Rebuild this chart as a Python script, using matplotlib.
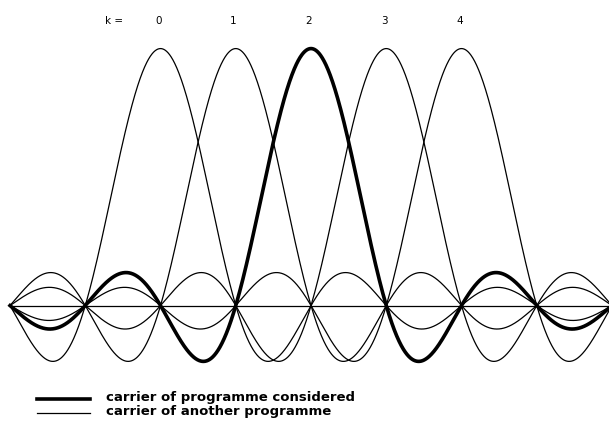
import numpy as np
import matplotlib
matplotlib.use("Agg")
import matplotlib.pyplot as plt

###########################################################
### ---------------------- INPUT --------------------------
###########################################################

carriers = [0, 1, 2, 3, 4]        # carrier index k
considered = 2                    # carrier of the programme considered
k_labels = ["0", "1", "2", "3", "4"]
x_span = (-2.0, 6.0)              # frequency range, in carrier spacings

legend_text = ["carrier of programme considered",
               "carrier of another programme"]

###########################################################
### ---------------------- PLOT ---------------------------
###########################################################

fig = plt.figure(figsize=(6.09, 4.32), dpi=100)
ax = fig.add_axes([0, 0, 1, 1])
ax.set_xlim(-2.133, 5.96)
ax.set_ylim(-0.492, 1.189)
ax.axis("off")

f = np.linspace(x_span[0], x_span[1], 2000)

# baseline
ax.plot(x_span, [0, 0], color="black", lw=0.9)

for k in carriers:
    spectrum = np.sinc(f - k)
    if k == considered:
        ax.plot(f, spectrum, color="black", lw=2.6, zorder=3)
    else:
        ax.plot(f, spectrum, color="black", lw=0.9)

# carrier numbers along the top
ax.text(-0.62, 1.107, "k =", ha="center", va="center", fontsize=7.5)
for k, lab in zip(carriers, k_labels):
    ax.text(k - 0.03, 1.107, lab, ha="center", va="center", fontsize=7.5)

# key
fig.lines.append(plt.Line2D([37/609, 90/609], [1 - 399/432] * 2,
                            transform=fig.transFigure, color="black", lw=2.6))
fig.lines.append(plt.Line2D([37/609, 90/609], [1 - 413/432] * 2,
                            transform=fig.transFigure, color="black", lw=0.9))
fig.text(106/609, 1 - 398/432, legend_text[0], ha="left", va="center",
         fontsize=9.5, fontweight="bold")
fig.text(106/609, 1 - 412/432, legend_text[1], ha="left", va="center",
         fontsize=9.5, fontweight="bold")

plt.savefig("out.png", dpi=100)
